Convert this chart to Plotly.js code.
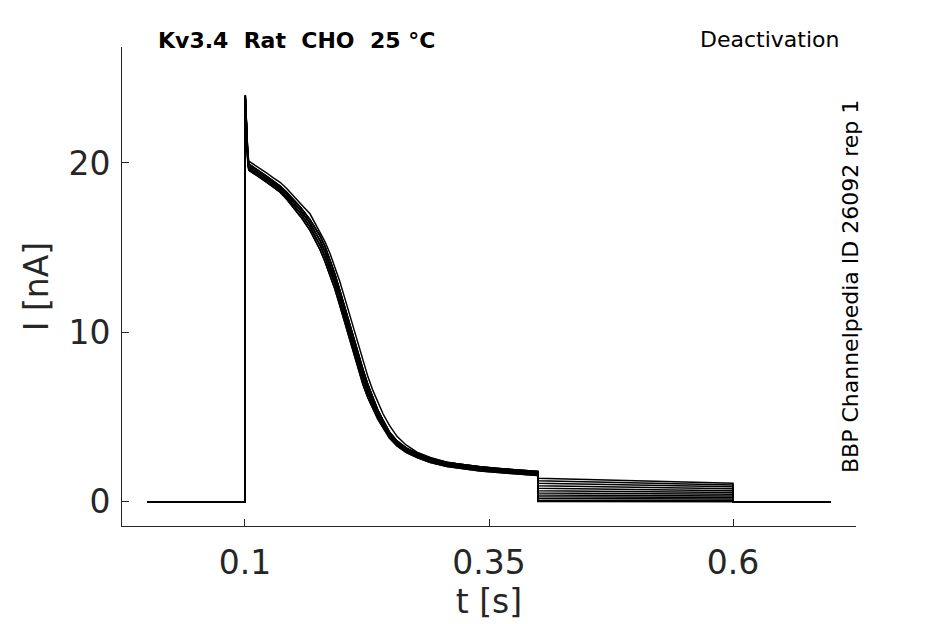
<!DOCTYPE html>
<html>
<head>
<meta charset="utf-8">
<script src="https://cdn.plot.ly/plotly-3.0.1.min.js"></script>
<style>
  html, body { margin: 0; padding: 0; background: #ffffff; }
  #chart { width: 945px; height: 624px; }
</style>
</head>
<body>
<div id="chart"></div>
<script>
// Time points of the activating pulse (s)
const pulseT = [0.1, 0.1003, 0.1015, 0.103, 0.104, 0.108, 0.115, 0.122, 0.129, 0.136,
    0.143, 0.15, 0.157, 0.1666, 0.172, 0.177, 0.182, 0.187, 0.192, 0.197,
    0.202, 0.2076, 0.214, 0.221, 0.226, 0.231, 0.236, 0.2414, 0.248, 0.2557,
    0.265, 0.2762, 0.29, 0.307, 0.325, 0.341, 0.36, 0.38, 0.4];

// Current during the pulse (nA): one late sweep and four sweeps forming the main band
const pulseOuter = [0, 24.0, 22.4, 20.5, 20.1, 19.95, 19.7, 19.42, 19.12, 18.86,
    18.48, 18.06, 17.59, 17.0, 16.4, 15.91, 15.34, 14.67, 13.9, 13.03,
    12.07, 10.94, 9.64, 8.29, 7.38, 6.58, 5.86, 5.2, 4.52, 3.87,
    3.36, 2.94, 2.63, 2.35, 2.17, 2.06, 1.95, 1.86, 1.77];
const pulseA = [0, 24.0, 22.2, 20.3, 19.93, 19.78, 19.53, 19.23, 18.93, 18.63,
    18.26, 17.84, 17.37, 16.65, 16.18, 15.68, 15.07, 14.32, 13.47, 12.52,
    11.52, 10.37, 9.09, 7.8, 6.91, 6.13, 5.44, 4.83, 4.13, 3.6,
    3.19, 2.86, 2.57, 2.33, 2.17, 2.07, 1.97, 1.88, 1.8];
const pulseB = [0, 23.9, 22.0, 20.15, 19.81, 19.66, 19.41, 19.11, 18.81, 18.51,
    18.12, 17.68, 17.19, 16.44, 15.94, 15.41, 14.77, 14.02, 13.17, 12.22,
    11.22, 10.07, 8.79, 7.5, 6.65, 5.91, 5.26, 4.68, 4.01, 3.5,
    3.1, 2.78, 2.49, 2.25, 2.09, 1.99, 1.89, 1.8, 1.72];
const pulseC = [0, 23.8, 21.9, 20.0, 19.69, 19.54, 19.29, 18.99, 18.69, 18.39,
    17.98, 17.52, 17.01, 16.23, 15.7, 15.14, 14.47, 13.72, 12.87, 11.92,
    10.92, 9.77, 8.49, 7.2, 6.39, 5.69, 5.08, 4.53, 3.89, 3.4,
    3.0, 2.7, 2.41, 2.17, 2.01, 1.91, 1.81, 1.72, 1.64];
const pulseD = [0, 23.6, 21.7, 19.85, 19.57, 19.42, 19.17, 18.87, 18.57, 18.27,
    17.84, 17.36, 16.83, 16.02, 15.46, 14.87, 14.17, 13.42, 12.57, 11.62,
    10.62, 9.47, 8.19, 6.9, 6.13, 5.47, 4.9, 4.38, 3.77, 3.3,
    2.92, 2.62, 2.33, 2.09, 1.93, 1.83, 1.73, 1.64, 1.56];

// Which pulse shape each sweep follows
const sweepGroup = ['outer', 'a', 'b', 'c', 'd', 'a', 'b', 'c', 'd', 'a', 'b', 'c'];

// Tail current at start (0.4 s) and end (0.6 s) of the deactivation step (nA)
const tailStart = [1.40, 1.25, 1.10, 0.95, 0.80, 0.66, 0.53, 0.41, 0.30, 0.20, 0.10, 0.02];
const tailEnd   = [1.10, 1.00, 0.90, 0.78, 0.66, 0.55, 0.45, 0.35, 0.26, 0.17, 0.08, 0.01];

// Protocol times (s)
const tStart = 0;
const tTail = 0.4;
const tOff = 0.6;
const tEnd = 0.7;

const groups = { outer: pulseOuter, a: pulseA, b: pulseB, c: pulseC, d: pulseD };
const ink = '#262626';
const font = 'DejaVu Sans, sans-serif';

const traces = sweepGroup.map((g, i) => ({
    x: [tStart, ...pulseT, tTail, tOff, tOff, tEnd],
    y: [0, ...groups[g], tailStart[i], tailEnd[i], 0, 0],
    type: 'scatter',
    mode: 'lines',
    line: { color: '#000000', width: 1.5 },
    hoverinfo: 'skip'
}));

const axisBase = {
    showline: true,
    linecolor: ink,
    linewidth: 1,
    ticks: 'inside',
    ticklen: 7,
    tickwidth: 1,
    tickcolor: ink,
    showgrid: false,
    zeroline: false,
    tickfont: { family: font, size: 33, color: ink }
};

const layout = {
    width: 945,
    height: 624,
    margin: { l: 122, r: 89, t: 47, b: 98 },
    paper_bgcolor: '#ffffff',
    plot_bgcolor: '#ffffff',
    showlegend: false,
    font: { family: font, color: ink },
    xaxis: {
        ...axisBase,
        range: [-0.026, 0.726],
        tickvals: [0.1, 0.35, 0.6],
        ticktext: ['0.1', '0.35', '0.6'],
        ticklabelstandoff: 7,
        title: { text: 't [s]', font: { family: font, size: 33, color: ink }, standoff: 9 }
    },
    yaxis: {
        ...axisBase,
        range: [-1.42, 26.84],
        tickvals: [0, 10, 20],
        ticktext: ['0', '10', '20'],
        ticklabelstandoff: 4,
        title: { text: 'I [nA]', font: { family: font, size: 33, color: ink }, standoff: 9 }
    },
    annotations: [
        {
            text: '<b>Kv3.4\u00a0\u00a0Rat\u00a0\u00a0CHO\u00a0\u00a025 °C</b>',
            xref: 'paper', yref: 'paper', x: 0.0463, y: 1.0146,
            xanchor: 'left', yanchor: 'middle', showarrow: false,
            font: { family: font, size: 22, color: '#000000' }
        },
        {
            text: 'Deactivation',
            xref: 'paper', yref: 'paper', x: 0.9795, y: 1.0167,
            xanchor: 'right', yanchor: 'middle', showarrow: false,
            font: { family: font, size: 22, color: '#000000' }
        },
        {
            text: 'BBP Channelpedia ID 26092 rep 1',
            xref: 'paper', yref: 'paper', x: 0.9918, y: 0.501,
            xanchor: 'center', yanchor: 'middle', textangle: -90, showarrow: false,
            font: { family: font, size: 22, color: '#000000' }
        }
    ]
};

Plotly.newPlot('chart', traces, layout, { displayModeBar: false, staticPlot: true });
</script>
</body>
</html>
